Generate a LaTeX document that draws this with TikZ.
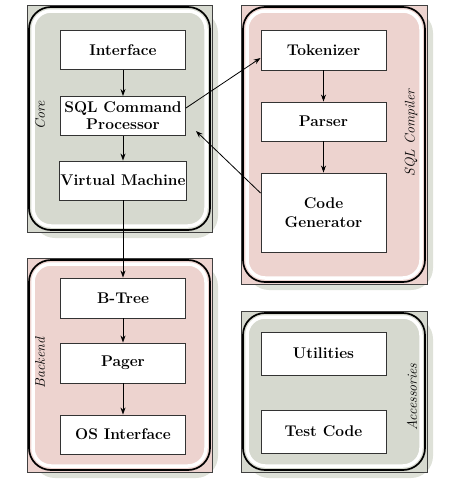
\documentclass[tikz,border=0pt]{standalone}
\usetikzlibrary{arrows.meta}

\definecolor{coregrey}{HTML}{D6D9CF}
\definecolor{backpink}{HTML}{EDD3CF}
\definecolor{shadegrey}{HTML}{DEE1D8}

\begin{document}
\begin{tikzpicture}[
    x=1pt, y=-1pt,
    unit/.style={draw=black!80, line width=0.9pt, fill=white,
        minimum width=125pt, align=center,
        font=\fontsize{15.5}{17}\selectfont\bfseries},
    frame/.style={draw=black!75, line width=0.8pt},
    halo/.style={draw=white, line width=3.5pt, rounded corners=18pt},
    rim/.style={draw=black, line width=1.7pt, rounded corners=22pt},
    shade/.style={fill=shadegrey, rounded corners=22pt},
    tag/.style={rotate=90, font=\fontsize{14}{14}\selectfont\itshape},
    flow/.style={-{Stealth[length=7pt,width=5pt]}, line width=0.8pt}
]
\useasboundingbox (0,0) rectangle (450,480);

% Groups
\fill[shade] (33,11) rectangle (218,238);
\fill[shade] (247,11) rectangle (433,290);
\fill[shade] (33,264) rectangle (218,478);
\fill[shade] (247,317) rectangle (433,478);

\filldraw[frame, fill=coregrey] (27,5) rectangle (212,232);
\filldraw[frame, fill=backpink] (241,5) rectangle (427,284);
\filldraw[frame, fill=backpink] (27,258) rectangle (212,472);
\filldraw[frame, fill=coregrey] (241,311) rectangle (427,472);

\draw[halo] (33,11) rectangle (206,226);
\draw[halo] (247,11) rectangle (421,278);
\draw[halo] (33,264) rectangle (206,466);
\draw[halo] (247,317) rectangle (421,466);

\draw[rim] (29,7) rectangle (210,230);
\draw[rim] (243,7) rectangle (425,282);
\draw[rim] (29,260) rectangle (210,470);
\draw[rim] (243,313) rectangle (425,470);

\node[tag] (coretag) at (40,115) {Core};
\node[tag] (comptag) at (411,133) {SQL Compiler};
\node[tag] (backtag) at (40,363) {Backend};
\node[tag] (acctag) at (412,397) {Accessories};

% Core
\node[unit, minimum height=39pt] (iface) at (123,50) {Interface};
\node[unit, minimum height=39pt, inner sep=1pt] (sql) at (123,116)
    {SQL Command\\Processor};
\node[unit, minimum height=39pt, inner sep=1pt] (vm) at (123,180.5) {Virtual Machine};

% SQL Compiler
\node[unit, minimum height=40pt] (tok) at (323.5,50) {Tokenizer};
\node[unit, minimum height=39pt] (parser) at (323.5,121.5) {Parser};
\node[unit, minimum height=79pt] (gen) at (323.5,212.5) {Code\\[2pt]Generator};

% Backend
\node[unit, minimum height=40pt] (btree) at (123,298) {B-Tree};
\node[unit, minimum height=40pt] (pager) at (123,363) {Pager};
\node[unit, minimum height=39pt] (os) at (123,434.5) {OS Interface};

% Accessories
\node[unit, minimum height=43pt] (util) at (323.5,353.5) {Utilities};
\node[unit, minimum height=43pt] (test) at (323.5,431.5) {Test Code};

% Connectors
\draw[flow] (iface) -- (sql);
\draw[flow] (sql) -- (vm);
\draw[flow] (vm) -- (btree);
\draw[flow] (btree) -- (pager);
\draw[flow] (pager) -- (os);
\draw[flow] (tok) -- (parser);
\draw[flow] (parser) -- (gen);
\draw[flow] ([yshift=8pt]sql.east) -- ([yshift=-8pt]tok.west);
\coordinate (back) at (196,131);
\draw[flow] ([yshift=19.5pt]gen.west) -- (back);

\end{tikzpicture}
\end{document}
